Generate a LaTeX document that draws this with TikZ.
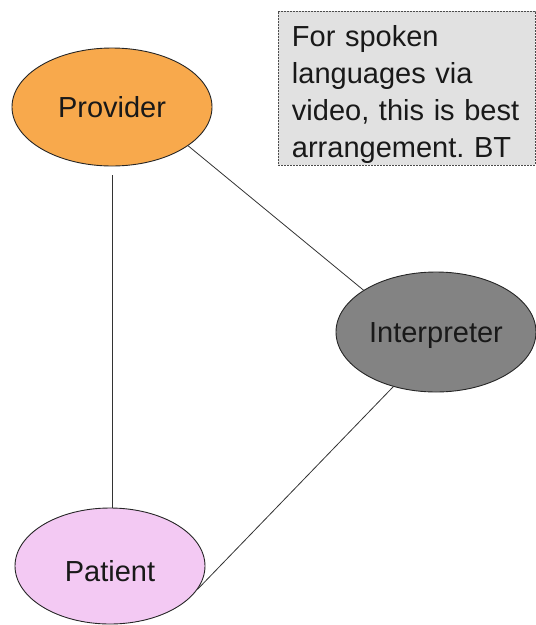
\documentclass[tikz,border=0pt]{standalone}
\usepackage{fontspec}
\setmainfont{Liberation Sans}
\usetikzlibrary{shapes.geometric}
\definecolor{provfill}{HTML}{F8A94C}
\definecolor{interpfill}{HTML}{838383}
\definecolor{patfill}{HTML}{F3C9F3}
\definecolor{notefill}{HTML}{E1E1E1}
\tikzset{
  party/.style={ellipse, draw=black!85, line width=0.9pt, inner sep=0pt,
    font=\fontsize{29}{34}\selectfont, text=black!90,
    text height=21pt, text depth=0pt},
  link/.style={draw=black!80, line width=0.8pt},
  note/.style={draw=black!70, dash pattern=on 2pt off 1pt, line width=0.9pt,
    fill=notefill, anchor=north west, align=left,
    font=\fontsize{29}{37}\selectfont\frenchspacing, text=black!90,
    inner xsep=13pt, inner ysep=14pt, text width=230pt, minimum width=257pt,
    text height=21pt, text depth=105pt}
}
\begin{document}
\begin{tikzpicture}[x=1pt,y=-1pt]
  \useasboundingbox (0,0) rectangle (536,625);

  \node[party, fill=provfill, minimum width=200pt, minimum height=118pt] (prov) at (112,107) {Provider};
  \node[party, fill=interpfill, minimum width=200pt, minimum height=120pt] (interp) at (436,332) {Interpreter};
  \node[party, fill=patfill, minimum width=190pt, minimum height=116pt, text height=31pt] (pat) at (110,566) {Patient};

  \node[note] (memo) at (278,11) {For spoken\\languages via\\video, this is best\\arrangement. BT};

  \draw[link] ([yshift=-9pt]prov.south) -- (prov.south |- pat.north);
  \draw[link] (prov.-27) -- (interp.150);
  \draw[link] (interp.232) -- (pat.-15);
\end{tikzpicture}
\end{document}
